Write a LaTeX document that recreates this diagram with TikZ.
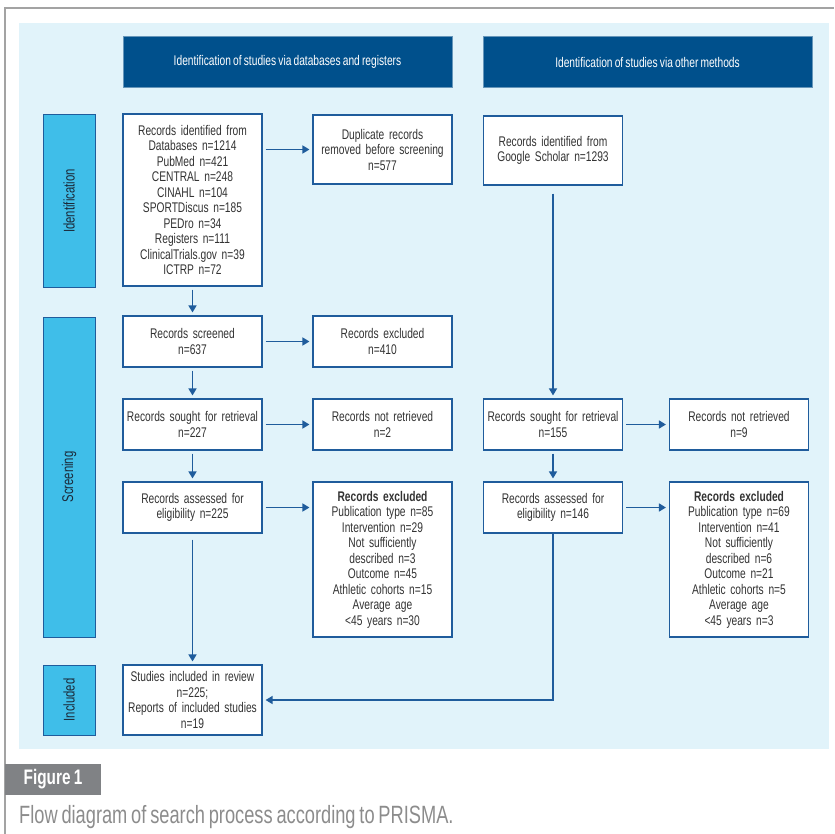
\documentclass[tikz,border=0pt]{standalone}
\usepackage{fontspec}
\setmainfont{Liberation Sans}[FakeStretch=0.73, WordSpace=0.75]
\usepackage{tikz}
\usepackage{xcolor}
\usetikzlibrary{arrows.meta, positioning, calc}

\definecolor{bgblue}{HTML}{E1F3FA}
\definecolor{hdrblue}{HTML}{00508C}
\definecolor{barblue}{HTML}{3FBEE9}
\definecolor{lineblue}{HTML}{1F5C9C}
\definecolor{txtgray}{HTML}{333333}
\definecolor{capgray}{HTML}{8C8C8C}
\definecolor{labgray}{HTML}{808285}
\definecolor{framegray}{HTML}{A3A3A3}
\definecolor{phasetxt}{HTML}{1B2A3A}

\begin{document}
\begin{tikzpicture}[x=1pt, y=-1pt, font=\fontsize{14}{15.5}\selectfont]
    \tikzstyle{header} = [rectangle, draw=hdrblue!60!white, fill=hdrblue, text=white, minimum width=329pt, minimum height=51pt, inner sep=0pt, font=\fontsize{14}{16}\selectfont]
    \tikzstyle{phase} = [rectangle, draw=lineblue, line width=1pt, fill=barblue, text=phasetxt, minimum height=52pt, inner sep=0pt, rotate=90, font=\fontsize{15.5}{17}\selectfont]
    \tikzstyle{record} = [rectangle, draw=lineblue, line width=1.1pt, fill=white, text=txtgray, text width=137pt, align=center, inner sep=1pt, minimum height=51pt]
    \tikzstyle{arrow} = [line width=1.4pt, draw=lineblue, -{Triangle[length=7pt, width=8pt]}, shorten <=3pt, shorten >=3pt]

    \useasboundingbox (0,0) rectangle (834,834);
    \fill[bgblue] (19,23) rectangle (829,749);
    \draw[framegray, line width=2pt] (5,834) -- (5,8) -- (834,8);

    \node[header] (hdrdb) at (287.5,61.5) {Identification of studies via databases and registers};
    \node[header] (hdrother) at (647.5,62) {Identification of studies via other methods};

    \node[phase, minimum width=172pt] (phid) at (69,201) {Identification};
    \node[phase, minimum width=320pt] (phscr) at (69,477) {Screening};
    \node[phase, minimum width=70pt] (phinc) at (69,700) {Included};

    \node[record, minimum height=172pt] (idrec) at (192.5,200) {Records identified from\\ Databases n=1214\\ PubMed n=421\\ CENTRAL n=248\\ CINAHL n=104\\ SPORTDiscus n=185\\ PEDro n=34\\ Registers n=111\\ ClinicalTrials.gov n=39\\ ICTRP n=72};
    \node[record, minimum height=69pt] (dup) at (382.5,149.5) {Duplicate records\\ removed before screening\\ n=577};
    \node[record, minimum height=69pt] (gsrec) at (553,150.5) {Records identified from\\ Google Scholar n=1293};

    \node[record] (screened) at (192.5,341.5) {Records screened\\ n=637};
    \node[record] (excl) at (382.5,341.5) {Records excluded\\ n=410};

    \node[record] (sought) at (192.5,424.5) {Records sought for retrieval\\ n=227};
    \node[record] (notret) at (382.5,424.5) {Records not retrieved\\ n=2};
    \node[record] (sought2) at (553,424.5) {Records sought for retrieval\\ n=155};
    \node[record] (notret2) at (739,424.5) {Records not retrieved\\ n=9};

    \node[record] (assessed) at (192.5,507.5) {Records assessed for\\ eligibility n=225};
    \node[record, minimum height=155pt] (exclelig) at (382.5,559.5) {\textbf{Records excluded}\\ Publication type n=85\\ Intervention n=29\\ Not sufficiently\\ described n=3\\ Outcome n=45\\ Athletic cohorts n=15\\ Average age\\ {<}45 years n=30};
    \node[record] (assessed2) at (553,507.5) {Records assessed for\\ eligibility n=146};
    \node[record, minimum height=155pt] (exclelig2) at (739,559.5) {\textbf{Records excluded}\\ Publication type n=69\\ Intervention n=41\\ Not sufficiently\\ described n=6\\ Outcome n=21\\ Athletic cohorts n=5\\ Average age\\ {<}45 years n=3};

    \node[record, minimum height=70pt] (included) at (192.5,700) {Studies included in review\\ n=225;\\ Reports of included studies\\ n=19};

    \node[fill=labgray, text=white, font=\fontsize{21}{24}\selectfont\bfseries, minimum width=96pt, minimum height=31pt, inner sep=0pt] (figlab) at (53,779.5) {Figure 1};
    \node[anchor=west, text=capgray, font=\fontsize{25}{28}\selectfont, inner sep=0pt] (caption) at (19,817) {Flow diagram of search process according to PRISMA.};

    \draw[arrow] (idrec.east |- dup) -- (dup);
    \draw[arrow] (idrec) -- (screened);
    \draw[arrow] (screened) -- (excl);
    \draw[arrow] (screened) -- (sought);
    \draw[arrow] (sought) -- (notret);
    \draw[arrow] (sought) -- (assessed);
    \draw[arrow] (assessed) -- (exclelig.west |- assessed);
    \draw[arrow, shorten <=6pt] (assessed) -- (included);
    \draw[arrow, shorten <=8pt] (gsrec) -- (sought2);
    \draw[arrow] (sought2) -- (notret2);
    \draw[arrow] (sought2) -- (assessed2);
    \draw[arrow] (assessed2) -- (exclelig2.west |- assessed2);
    \draw[arrow, shorten <=0pt] (assessed2) |- (included);
\end{tikzpicture}
\end{document}
